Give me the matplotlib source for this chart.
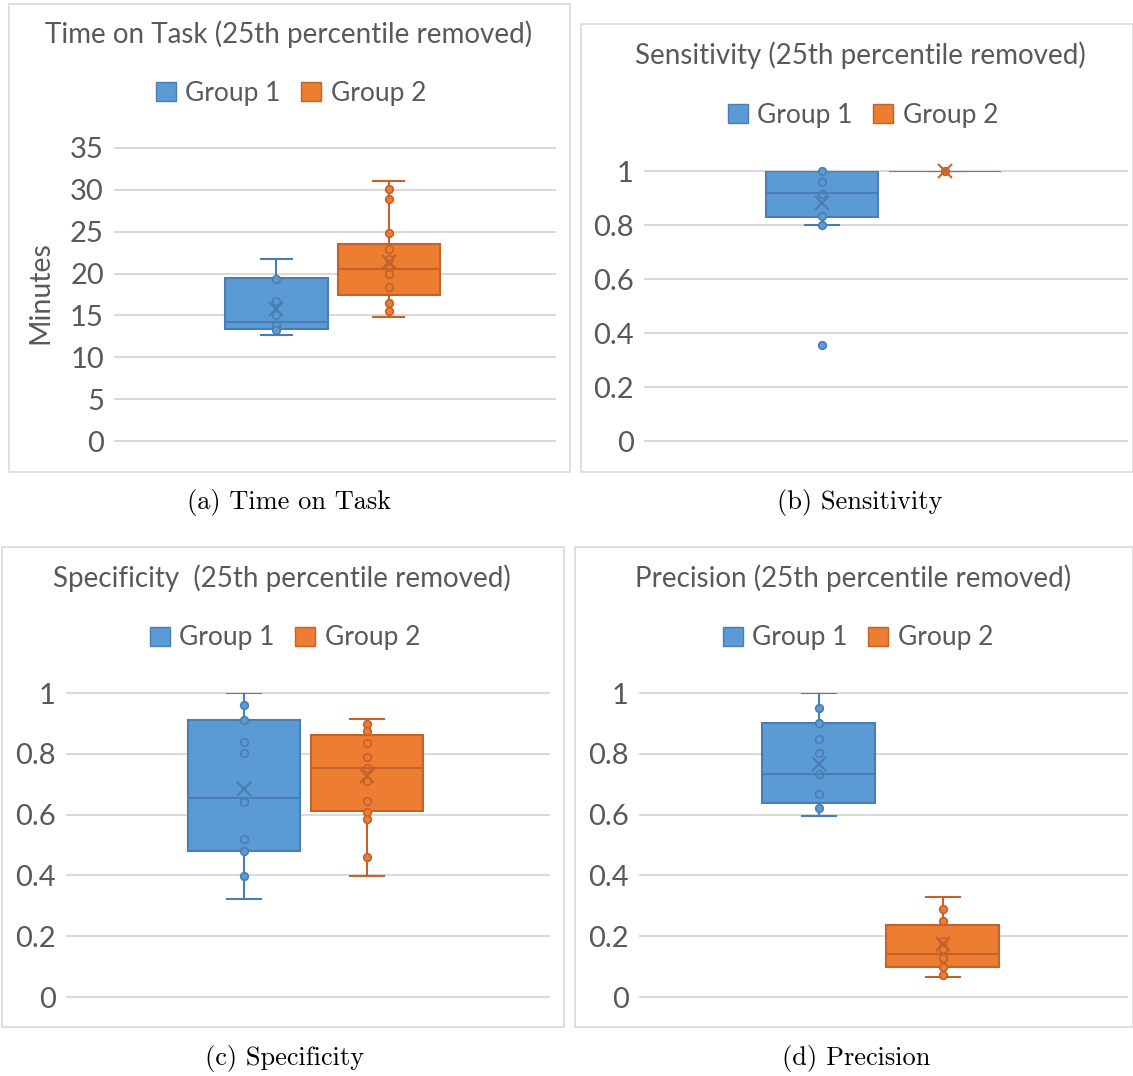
import matplotlib.pyplot as plt
from matplotlib.patches import Rectangle, Patch

plt.rcParams['font.family'] = ['Lato', 'DejaVu Sans']

W, H = 1133, 1076

groups = ['Group 1', 'Group 2']

# box stats: whislo, q1, med, q3, whishi
tot_boxes = [[12.7, 13.4, 14.2, 19.5, 21.8], [14.8, 17.4, 20.6, 23.5, 31.1]]
tot_means = [15.8, 21.4]
tot_points = [[19.4, 16.7, 15.0, 13.9, 13.2],
              [30.1, 28.9, 24.9, 22.9, 21.7, 20.7, 20.0, 18.4, 16.5, 15.5]]

sens_boxes = [[0.80, 0.831, 0.919, 1.0, 1.0], [1.0, 1.0, 1.0, 1.0, 1.0]]
sens_means = [0.88, 1.0]
sens_points = [[1.0, 0.958, 0.916, 0.834, 0.80, 0.354],
               [1.0]]

spec_boxes = [[0.322, 0.48, 0.654, 0.911, 1.0], [0.399, 0.613, 0.752, 0.862, 0.915]]
spec_means = [0.685, 0.727]
spec_points = [[0.962, 0.911, 0.838, 0.802, 0.642, 0.52, 0.48, 0.399],
               [0.898, 0.874, 0.835, 0.789, 0.752, 0.709, 0.646, 0.61, 0.587, 0.459]]

prec_boxes = [[0.596, 0.638, 0.733, 0.90, 1.0], [0.067, 0.098, 0.142, 0.236, 0.33]]
prec_means = [0.768, 0.173]
prec_points = [[0.95, 0.90, 0.85, 0.802, 0.733, 0.668, 0.623],
               [0.288, 0.251, 0.184, 0.157, 0.127, 0.098, 0.074]]

tot_ticks = [0, 5, 10, 15, 20, 25, 30, 35]
frac_ticks = [0, 0.2, 0.4, 0.6, 0.8, 1]

fills = ['#5B9BD5', '#ED7D31']
edges = ['#4A7EB3', '#C4622A']
grey = '#595959'

fig = plt.figure(figsize=(W / 100, H / 100), dpi=100)


def rect(x0, y0, x1, y1):
    return [x0 / W, 1 - y1 / H, (x1 - x0) / W, (y1 - y0) / H]


def draw_panel(frame, plot, title, title_x, title_y, leg_x, leg_y, caption, cap_x, cap_y,
               yticks, boxes, means, points, ylabel=None):
    r = rect(*frame)
    fig.patches.append(Rectangle((r[0], r[1]), r[2], r[3], transform=fig.transFigure,
                                 fill=False, ec='#d9d9d9', lw=1.2))
    ax = fig.add_axes(rect(*plot))
    ax.set_xlim(0, 1)
    ax.set_ylim(yticks[0], yticks[-1])
    for s in ax.spines.values():
        s.set_visible(False)
    ax.set_yticks(yticks)
    ax.set_yticklabels([f'{v:g}' for v in yticks])
    ax.tick_params(axis='y', length=0, pad=8, labelsize=21, labelcolor=grey)
    ax.set_xticks([])
    ax.grid(axis='y', color='#d9d9d9', lw=1.4)
    ax.set_axisbelow(True)
    for g in ax.get_ygridlines():
        g.set_clip_on(False)

    pos = [0.367, 0.622]
    for i in range(2):
        st = dict(zip(['whislo', 'q1', 'med', 'q3', 'whishi'], boxes[i]))
        ax.bxp([st], positions=[pos[i]], widths=[0.232], capwidths=[0.07],
               patch_artist=True, showfliers=False, manage_ticks=False,
               boxprops=dict(facecolor=fills[i], edgecolor=edges[i], lw=1.5),
               whiskerprops=dict(color=edges[i], lw=1.5),
               capprops=dict(color=edges[i], lw=1.5),
               medianprops=dict(color=edges[i], lw=1.5))
        ax.plot([pos[i]] * len(points[i]), points[i], 'o', ms=5.5,
                mfc=fills[i], mec=edges[i], mew=1.2, clip_on=False)
        ax.plot(pos[i], means[i], 'x', ms=10, mew=1.5, color=edges[i], clip_on=False)

    fig.text(title_x / W, 1 - title_y / H, title, ha='center', va='center',
             fontsize=20, color=grey)
    fig.legend(handles=[Patch(fc=fills[0], ec=edges[0]), Patch(fc=fills[1], ec=edges[1])],
               labels=groups, loc='center', bbox_to_anchor=(leg_x / W, 1 - leg_y / H),
               ncol=2, frameon=False, fontsize=19, handlelength=0.75, handleheight=0.75,
               handletextpad=0.35, columnspacing=0.8, labelcolor=grey)
    fig.text(cap_x / W, 1 - cap_y / H, caption, ha='center', va='center',
             fontsize=19, family='cmr10', color='black')
    if ylabel:
        fig.text(40 / W, 1 - 293 / H, ylabel, ha='center', va='center', rotation=90,
                 fontsize=20.5, color=grey)


draw_panel((9, 4, 570, 472), (115, 148, 555, 441), 'Time on Task (25th percentile removed)',
           289, 34, 291, 93, '(a) Time on Task', 289, 503,
           tot_ticks, tot_boxes, tot_means, tot_points, ylabel='Minutes')
draw_panel((581, 24, 1133, 472), (645, 171, 1127, 441), 'Sensitivity (25th percentile removed)',
           860, 55, 863, 115, '(b) Sensitivity', 860, 503,
           frac_ticks, sens_boxes, sens_means, sens_points)
draw_panel((2, 547, 564, 1027), (67, 693, 549, 997), 'Specificity  (25th percentile removed)',
           282, 578, 285, 638, '(c) Specificity', 285, 1058,
           frac_ticks, spec_boxes, spec_means, spec_points)
draw_panel((575, 547, 1133, 1027), (640, 693, 1127, 997), 'Precision (25th percentile removed)',
           853, 578, 858, 638, '(d) Precision', 856, 1058,
           frac_ticks, prec_boxes, prec_means, prec_points)

fig.savefig('out.png', dpi=100)
